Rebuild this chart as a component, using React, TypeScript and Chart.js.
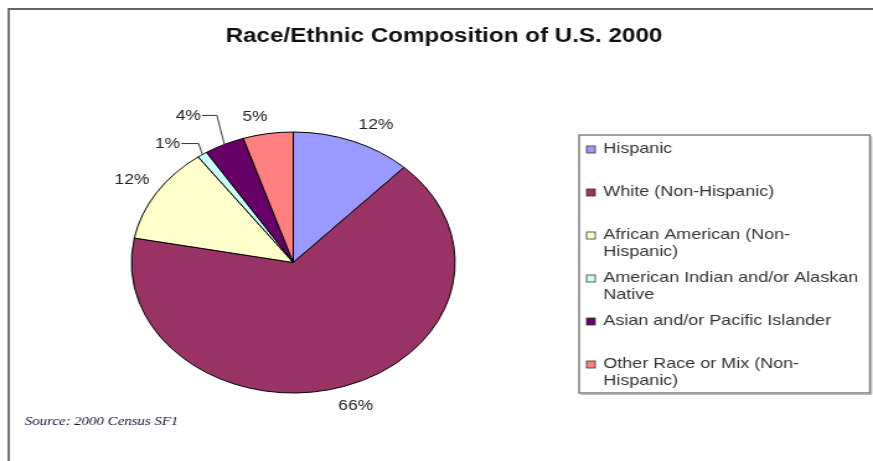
import React, { useEffect, useRef } from "react";
import { Chart, registerables } from "chart.js";

Chart.register(...registerables);

// ---- data ----
const TITLE = "Race/Ethnic Composition of U.S. 2000";
const SOURCE = "Source: 2000 Census SF1";
const categories = [
  "Hispanic",
  "White (Non-Hispanic)",
  "African American (Non-Hispanic)",
  "American Indian and/or Alaskan Native",
  "Asian and/or Pacific Islander",
  "Other Race or Mix (Non-Hispanic)",
];
const legendLines = [
  ["Hispanic"],
  ["White (Non-Hispanic)"],
  ["African American (Non-", "Hispanic)"],
  ["American Indian and/or Alaskan", "Native"],
  ["Asian and/or Pacific Islander"],
  ["Other Race or Mix (Non-", "Hispanic)"],
];
const shares = [12, 66, 12, 1, 4, 5];
const colors = ["#9999FF", "#993366", "#FFFFCC", "#CCFFFF", "#660066", "#FF8080"];

// ---- layout (logical canvas is stretched horizontally by CSS) ----
const W = 704;
const H = 461;
const FONT = "'Liberation Sans', Arial, Helvetica, sans-serif";

// label placement tweaks: nudge for outside labels, leader for small slices
const labelStyle: Record<number, any> = {
  0: { nudge: [9, 0] },
  1: { nudge: [2, 3] },
  2: { nudge: [2, -3] },
  3: { leader: [-3, -11, 14] },
  4: { leader: [-6, -29, 12] },
  5: { nudge: [-7, 1] },
};

const decor = {
  id: "decor",
  afterDraw(chart: any) {
    const ctx: CanvasRenderingContext2D = chart.ctx;
    ctx.save();

    // frame
    ctx.strokeStyle = "#666";
    ctx.lineWidth = 1.8;
    ctx.beginPath();
    ctx.moveTo(7, H + 2);
    ctx.lineTo(7, 9);
    ctx.lineTo(W + 2, 9);
    ctx.stroke();

    // title
    ctx.fillStyle = "#111";
    ctx.font = `bold 19.5px ${FONT}`;
    ctx.textAlign = "center";
    ctx.textBaseline = "alphabetic";
    ctx.fillText(TITLE, 358, 42);

    // percentage labels
    const meta = chart.getDatasetMeta(0);
    const data = chart.data.datasets[0].data as number[];
    const total = data.reduce((a, b) => a + b, 0);
    ctx.font = `14px ${FONT}`;
    ctx.fillStyle = "#222";
    ctx.strokeStyle = "#333";
    ctx.lineWidth = 1;
    meta.data.forEach((arc: any, i: number) => {
      const { x, y, startAngle, endAngle, outerRadius } = arc.getProps(
        ["x", "y", "startAngle", "endAngle", "outerRadius"],
        true
      );
      const mid = (startAngle + endAngle) / 2;
      const c = Math.cos(mid);
      const s = Math.sin(mid);
      const txt = Math.round((data[i] / total) * 100) + "%";
      const st = labelStyle[i] || {};
      if (st.leader) {
        const [dx, dy, len] = st.leader;
        const px = x + c * outerRadius;
        const py = y + s * outerRadius;
        const ex = px + dx;
        const ey = py + dy;
        ctx.beginPath();
        ctx.moveTo(px, py);
        ctx.lineTo(ex, ey);
        ctx.lineTo(ex - len, ey);
        ctx.stroke();
        ctx.textAlign = "right";
        ctx.textBaseline = "middle";
        ctx.fillText(txt, ex - len - 1, ey + 1);
      } else {
        const R = outerRadius + 12;
        const w = ctx.measureText(txt).width;
        const h = 11;
        const [nx, ny] = st.nudge || [0, 0];
        const cx = x + c * R + (w / 2) * c + nx;
        const cy = y + s * R + (h / 2) * s + ny;
        ctx.textAlign = "center";
        ctx.textBaseline = "middle";
        ctx.fillText(txt, cx, cy);
      }
    });

    // legend box
    const lx = 467, ly = 135, lw = 234.5, lh = 258;
    ctx.fillStyle = "#fff";
    ctx.fillRect(lx, ly, lw, lh);
    ctx.strokeStyle = "#777";
    ctx.lineWidth = 1.4;
    ctx.strokeRect(lx, ly, lw, lh);
    ctx.strokeStyle = "#aaa";
    ctx.lineWidth = 1;
    ctx.beginPath();
    ctx.moveTo(lx + 1.5, ly + lh + 1.3);
    ctx.lineTo(lx + lw + 1.3, ly + lh + 1.3);
    ctx.lineTo(lx + lw + 1.3, ly + 1.5);
    ctx.stroke();

    ctx.font = `14.5px ${FONT}`;
    ctx.textAlign = "left";
    ctx.textBaseline = "alphabetic";
    const bg = chart.data.datasets[0].backgroundColor as string[];
    legendLines.forEach((lines, i) => {
      const base = 153 + i * 43;
      ctx.fillStyle = bg[i];
      ctx.fillRect(473, base - 7, 7, 7);
      ctx.strokeStyle = "#333";
      ctx.lineWidth = 0.8;
      ctx.strokeRect(473, base - 7, 7, 7);
      ctx.fillStyle = "#333";
      lines.forEach((t, j) => ctx.fillText(t, 486.5, base + j * 17));
    });

    // source note
    ctx.font = `italic 12px 'Liberation Serif', 'Times New Roman', serif`;
    ctx.fillStyle = "#111133";
    ctx.textAlign = "left";
    ctx.fillText(SOURCE, 20, 425);

    ctx.restore();
  },
};

export default function App() {
  const ref = useRef<HTMLCanvasElement>(null);
  useEffect(() => {
    const canvas = ref.current!;
    const chart = new Chart(canvas, {
      type: "pie",
      data: {
        labels: categories,
        datasets: [
          {
            data: shares,
            backgroundColor: colors,
            borderColor: "#000",
            borderWidth: 1,
            radius: 130.5,
          } as any,
        ],
      },
      options: {
        responsive: false,
        animation: false,
        devicePixelRatio: 1,
        events: [],
        layout: { padding: { left: 105, right: 336, top: 131, bottom: 67 } },
        plugins: {
          legend: { display: false },
          tooltip: { enabled: false },
          title: { display: false },
        },
      },
      plugins: [decor],
    });
    return () => chart.destroy();
  }, []);
  return (
    <canvas
      ref={ref}
      width={W}
      height={H}
      style={{ position: "fixed", left: 0, top: 0, width: "873px", height: "461px" }}
    />
  );
}
